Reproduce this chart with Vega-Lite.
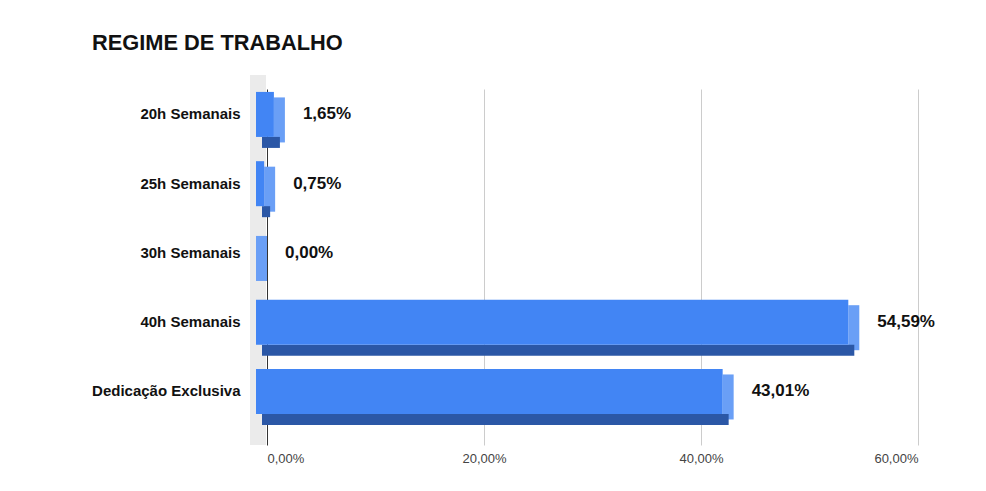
{
  "$schema": "https://vega.github.io/schema/vega-lite/v6.json",
  "width": 651,
  "height": 356,
  "autosize": {"type": "none"},
  "padding": {"left": 267, "top": 89, "right": 68, "bottom": 46},
  "background": "white",
  "title": {
    "text": "REGIME DE TRABALHO",
    "anchor": "start",
    "frame": "group",
    "font": "Liberation Sans",
    "fontSize": 21.8,
    "fontWeight": "bold",
    "color": "#111111",
    "dx": -175,
    "offset": 20
  },
  "config": {"view": {"stroke": null}},
  "data": {
    "values": [
      {"regime": "20h Semanais", "pct": 1.65, "label": "1,65%"},
      {"regime": "25h Semanais", "pct": 0.75, "label": "0,75%"},
      {"regime": "30h Semanais", "pct": 0, "label": "0,00%"},
      {"regime": "40h Semanais", "pct": 54.59, "label": "54,59%"},
      {"regime": "Dedicação Exclusiva", "pct": 43.01, "label": "43,01%"}
    ]
  },
  "layer": [
    {
      "data": {"values": [{"w": 1}]},
      "mark": {"type": "rect", "color": "#ebebeb", "xOffset": -17, "x2Offset": -1, "yOffset": -14, "y2Offset": -6},
      "encoding": {
        "x": {"datum": 0, "type": "quantitative", "scale": {"domain": [0, 60], "nice": false},
          "axis": {
            "title": null,
            "values": [0, 20, 40, 60],
            "labelExpr": "replace(format(datum.value, '.2f'), '.', ',') + '%'",
            "grid": true,
            "gridColor": {"condition": {"test": "datum.value === 0", "value": "#333333"}, "value": "#cccccc"},
            "domain": false,
            "ticks": false,
            "labelPadding": 7,
            "labelFont": "Liberation Sans",
            "labelFontSize": 13,
            "labelColor": "#444444"
          }},
        "x2": {"datum": 0}
      }
    },
    {
      "mark": {"type": "bar", "color": "#6a9ff6", "x2Offset": -11, "yOffset": -5.5},
      "encoding": {
        "y": {"field": "regime", "type": "nominal", "sort": null,
          "scale": {"paddingInner": 0.35, "paddingOuter": 0.245, "align": 0.41},
          "axis": {
            "title": null,
            "domain": false,
            "ticks": false,
            "grid": false,
            "labelPadding": 27,
            "labelOffset": -11,
            "labelFont": "Liberation Sans",
            "labelFontSize": 15,
            "labelFontWeight": "bold",
            "labelColor": "#111111",
            "labelLimit": 300
          }},
        "x": {"field": "pct", "type": "quantitative"},
        "x2": {"field": "pct"}
      }
    },
    {
      "mark": {"type": "bar", "color": "#2b57a6", "height": 11, "yOffset": 17, "xOffset": -5, "x2Offset": -5},
      "encoding": {
        "y": {"field": "regime", "type": "nominal", "sort": null},
        "x": {"field": "pct", "type": "quantitative"},
        "x2": {"datum": 0}
      }
    },
    {
      "mark": {"type": "bar", "color": "#4285f4", "xOffset": -11, "x2Offset": -11, "yOffset": -11},
      "encoding": {
        "y": {"field": "regime", "type": "nominal", "sort": null},
        "x": {"field": "pct", "type": "quantitative"},
        "x2": {"datum": 0}
      }
    },
    {
      "mark": {"type": "text", "align": "left", "baseline": "middle", "dx": 18, "yOffset": -11, "font": "Liberation Sans", "fontSize": 17, "fontWeight": "bold", "color": "#111111"},
      "encoding": {
        "y": {"field": "regime", "type": "nominal", "sort": null},
        "x": {"field": "pct", "type": "quantitative"},
        "text": {"field": "label"}
      }
    }
  ]
}
